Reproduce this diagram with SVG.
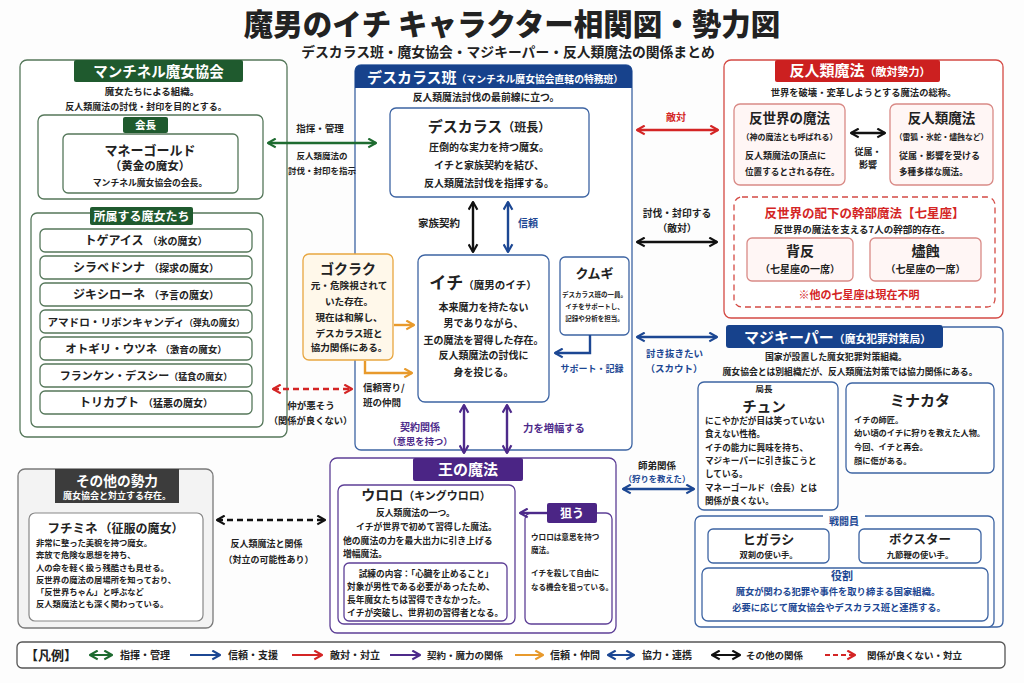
<svg xmlns="http://www.w3.org/2000/svg" width="1024" height="683" viewBox="0 0 1024 683">
<defs>
<style>
text{font-family:"Noto Sans CJK JP","Noto Sans CJK SC",sans-serif;font-weight:700;fill:#222}
.m{text-anchor:middle}
.w{fill:#fff}
.bl{fill:#1c4793}
.rd{fill:#d42525}
.pu{fill:#4d2a8a}
.gbox{fill:#fff;stroke:#55775a;stroke-width:1.3}
.bbox{fill:#fff;stroke:#3d64a3;stroke-width:1.3}
.rbox{fill:#fff6f5;stroke:#d98a86;stroke-width:1.3}
.pbox{fill:#fff;stroke:#5d3f96;stroke-width:1.3}
.ln{fill:none;stroke-width:2.4}
.lg{fill:none;stroke-width:2}
</style>
<marker id="ag" viewBox="0 0 10 10" refX="9" refY="5" markerWidth="11" markerHeight="11" markerUnits="userSpaceOnUse" orient="auto-start-reverse"><path d="M2,1 L9,5 L2,9" fill="none" stroke="#1e6b30" stroke-width="2" stroke-linejoin="round"/></marker>
<marker id="ab" viewBox="0 0 10 10" refX="9" refY="5" markerWidth="11" markerHeight="11" markerUnits="userSpaceOnUse" orient="auto-start-reverse"><path d="M2,1 L9,5 L2,9" fill="none" stroke="#1c4793" stroke-width="2" stroke-linejoin="round"/></marker>
<marker id="ar" viewBox="0 0 10 10" refX="9" refY="5" markerWidth="11" markerHeight="11" markerUnits="userSpaceOnUse" orient="auto-start-reverse"><path d="M2,1 L9,5 L2,9" fill="none" stroke="#d42525" stroke-width="2" stroke-linejoin="round"/></marker>
<marker id="ak" viewBox="0 0 10 10" refX="9" refY="5" markerWidth="11" markerHeight="11" markerUnits="userSpaceOnUse" orient="auto-start-reverse"><path d="M2,1 L9,5 L2,9" fill="none" stroke="#111" stroke-width="2" stroke-linejoin="round"/></marker>
<marker id="ap" viewBox="0 0 10 10" refX="9" refY="5" markerWidth="11" markerHeight="11" markerUnits="userSpaceOnUse" orient="auto-start-reverse"><path d="M2,1 L9,5 L2,9" fill="none" stroke="#4d2a8a" stroke-width="2" stroke-linejoin="round"/></marker>
<marker id="ao" viewBox="0 0 10 10" refX="9" refY="5" markerWidth="11" markerHeight="11" markerUnits="userSpaceOnUse" orient="auto-start-reverse"><path d="M2,1 L9,5 L2,9" fill="none" stroke="#e89a2c" stroke-width="2" stroke-linejoin="round"/></marker>
</defs>
<rect x="0" y="0" width="1024" height="683" fill="#fdfdfd"/>

<g id="title">
<text x="512" y="34.5" class="m" font-size="29.5" style="font-weight:900">魔男のイチ キャラクター相関図・勢力図</text>
<text x="508" y="56.5" class="m" font-size="13.8">デスカラス班・魔女協会・マジキーパー・反人類魔法の関係まとめ</text>
</g>

<g id="manchinel">
<rect x="20" y="60" width="267" height="377" rx="7" class="gbox"/>
<rect x="74" y="60" width="169" height="22" rx="2" fill="#1f5a2e"/>
<text x="158.5" y="76.5" class="m w" font-size="14.5">マンチネル魔女協会</text>
<text x="152" y="95" class="m" font-size="9.5">魔女たちによる組織。</text>
<text x="146" y="110" class="m" font-size="9">反人類魔法の討伐・封印を目的とする。</text>
</g>

<g id="president">
<rect x="38" y="115" width="225" height="84" rx="6" class="gbox"/>
<rect x="123" y="117" width="45" height="16" rx="2" fill="#1f5a2e"/>
<text x="145.5" y="129" class="m w" font-size="10.5">会長</text>
<rect x="63" y="134" width="175" height="59" rx="5" class="gbox"/>
<text x="150" y="155" class="m" font-size="13">マネーゴールド</text>
<text x="150" y="170" class="m" font-size="11.5">（黄金の魔女）</text>
<text x="150" y="186" class="m" font-size="8.8">マンチネル魔女協会の会長。</text>
</g>

<g id="members">
<rect x="31" y="213" width="232" height="214" rx="6" class="gbox"/>
<rect x="90" y="207" width="103" height="18" rx="2" fill="#1f5a2e"/>
<text x="141.5" y="220.5" class="m w" font-size="12">所属する魔女たち</text>
<g id="togeais"><rect x="40" y="229" width="212" height="23" rx="5" class="gbox"/><text x="146" y="245" class="m" font-size="12">トゲアイス<tspan font-size="10" dx="4">（氷の魔女）</tspan></text></g>
<g id="shirabedonna"><rect x="40" y="256" width="212" height="23" rx="5" class="gbox"/><text x="146" y="272" class="m" font-size="12">シラベドンナ<tspan font-size="10" dx="4">（探求の魔女）</tspan></text></g>
<g id="jikishirone"><rect x="40" y="283" width="212" height="23" rx="5" class="gbox"/><text x="146" y="299" class="m" font-size="12">ジキシローネ<tspan font-size="10" dx="4">（予言の魔女）</tspan></text></g>
<g id="amadoro"><rect x="40" y="310" width="212" height="23" rx="5" class="gbox"/><text x="146" y="326" class="m" font-size="10.6">アマドロ・リボンキャンディ<tspan font-size="8.6">（弾丸の魔女）</tspan></text></g>
<g id="otogiri"><rect x="40" y="337" width="212" height="23" rx="5" class="gbox"/><text x="146" y="353" class="m" font-size="11.5">オトギリ・ウツネ<tspan font-size="9.5" dx="3">（激音の魔女）</tspan></text></g>
<g id="frankendessy"><rect x="40" y="364" width="212" height="23" rx="5" class="gbox"/><text x="146" y="380" class="m" font-size="11">フランケン・デスシー<tspan font-size="9">（猛食の魔女）</tspan></text></g>
<g id="torikabuto"><rect x="40" y="391" width="212" height="23" rx="5" class="gbox"/><text x="146" y="407" class="m" font-size="12">トリカプト<tspan font-size="10" dx="4">（猛悪の魔女）</tspan></text></g>
</g>

<g id="deathcalass">
<rect x="355" y="65" width="277" height="385" rx="6" class="bbox"/>
<path d="M355,88 V71 Q355,65 361,65 H626 Q632,65 632,71 V88 Z" fill="#17428c"/>
<text x="495" y="82.5" class="m w" font-size="15">デスカラス班<tspan font-size="9.8">（マンチネル魔女協会直轄の特務班）</tspan></text>
<text x="486" y="100.7" class="m" font-size="9.8">反人類魔法討伐の最前線に立つ。</text>
</g>

<g id="deathcalass-leader">
<rect x="390" y="108" width="199" height="89" rx="6" class="bbox"/>
<text x="489" y="131.7" class="m" font-size="15">デスカラス<tspan font-size="12">（班長）</tspan></text>
<text x="489" y="150.8" class="m" font-size="10">圧倒的な実力を持つ魔女。</text>
<text x="489" y="168.8" class="m" font-size="10">イチと家族契約を結び、</text>
<text x="489" y="186.8" class="m" font-size="10">反人類魔法討伐を指揮する。</text>
</g>

<g id="ichi">
<rect x="418" y="255" width="131" height="147" rx="7" class="bbox"/>
<text x="483" y="288.5" class="m" font-size="17">イチ<tspan font-size="10.5">（魔男のイチ）</tspan></text>
<text x="483.5" y="310.8" class="m" font-size="10">本来魔力を持たない</text>
<text x="483.5" y="326.8" class="m" font-size="10">男でありながら、</text>
<text x="483.5" y="343.8" class="m" font-size="10">王の魔法を習得した存在。</text>
<text x="483.5" y="358.8" class="m" font-size="10">反人類魔法の討伐に</text>
<text x="483.5" y="375.8" class="m" font-size="10">身を投じる。</text>
</g>

<g id="kumugi">
<rect x="560" y="257" width="69" height="78" rx="5" class="bbox"/>
<text x="594.5" y="278" class="m" font-size="13">クムギ</text>
<text x="594.5" y="296.6" class="m" font-size="6.5">デスカラス班の一員。</text>
<text x="594.5" y="308.6" class="m" font-size="6.5">イチをサポートし、</text>
<text x="594.5" y="320.6" class="m" font-size="6.5">記録や分析を担当。</text>
</g>

<g id="gokuraku">
<rect x="303" y="254" width="90" height="106" rx="6" fill="#fff8ea" stroke="#e8a640" stroke-width="1.3"/>
<text x="348" y="274.3" class="m" font-size="14">ゴクラク</text>
<text x="349" y="288.7" class="m" font-size="9.6">元・危険視されて</text>
<text x="349" y="304.7" class="m" font-size="9.6">いた存在。</text>
<text x="349" y="320.7" class="m" font-size="9.6">現在は和解し、</text>
<text x="349" y="336.7" class="m" font-size="9.6">デスカラス班と</text>
<text x="349" y="350.7" class="m" font-size="9.6">協力関係にある。</text>
</g>

<g id="king-magic">
<rect x="330" y="458" width="286" height="175" rx="7" class="pbox"/>
<rect x="413" y="458" width="110" height="23" rx="2" fill="#4b2585"/>
<text x="468" y="475" class="m w" font-size="15">王の魔法</text>
</g>

<g id="uroro">
<rect x="338" y="485" width="177" height="139" rx="6" class="pbox"/>
<text x="426" y="500.3" class="m" font-size="14">ウロロ<tspan font-size="11">（キングウロロ）</tspan></text>
<text x="376" y="516.4" font-size="8.8">反人類魔法の一つ。</text>
<text x="356" y="530" font-size="8.8">イチが世界で初めて習得した魔法。</text>
<text x="343" y="543.5" font-size="8.8">他の魔法の力を最大出力に引き上げる</text>
<text x="343" y="556.5" font-size="8.8">増幅魔法。</text>
<rect x="344" y="563" width="163" height="58" rx="5" class="pbox"/>
<text x="426" y="576.5" class="m" font-size="8.7">試練の内容：「心臓を止めること」</text>
<text x="347" y="590" font-size="8.7">対象が男性である必要があったため、</text>
<text x="347" y="603" font-size="8.7">長年魔女たちは習得できなかった。</text>
<text x="347" y="616" font-size="8.7">イチが突破し、世界初の習得者となる。</text>
</g>

<g id="nerau">
<rect x="525" y="513" width="87" height="111" rx="6" class="pbox"/>
<rect x="547" y="503" width="50" height="20" rx="2" fill="#4b2585"/>
<text x="572" y="517.5" class="m w" font-size="12">狙う</text>
<text x="531" y="540" font-size="7.6">ウロロは意思を持つ</text>
<text x="531" y="553" font-size="7.6">魔法。</text>
<text x="531" y="576" font-size="7.6">イチを殺して自由に</text>
<text x="531" y="590" font-size="7.5">なる機会を狙っている。</text>
</g>

<g id="anti-human">
<rect x="724" y="60" width="279" height="258" rx="7" fill="#fff" stroke="#d44a44" stroke-width="1.3"/>
<rect x="775" y="60" width="165" height="22" rx="2" fill="#cc2020"/>
<text x="860" y="76" class="m w" font-size="15">反人類魔法<tspan font-size="11">（敵対勢力）</tspan></text>
<text x="863.5" y="95.5" class="m" font-size="9.3">世界を破壊・変革しようとする魔法の総称。</text>
</g>

<g id="anti-world">
<rect x="734" y="104" width="111" height="81" rx="6" class="rbox"/>
<text x="789.5" y="123" class="m" font-size="13.5">反世界の魔法</text>
<text x="789.5" y="140" class="m" font-size="8">（神の魔法とも呼ばれる）</text>
<text x="745" y="159.4" font-size="9">反人類魔法の頂点に</text>
<text x="745" y="175.3" font-size="8.6">位置するとされる存在。</text>
</g>

<g id="anti-human-magics">
<rect x="890" y="104" width="103" height="81" rx="6" class="rbox"/>
<text x="941.5" y="123" class="m" font-size="13.5">反人類魔法</text>
<text x="941.5" y="140" class="m" font-size="7.8">（雷狐・氷蛇・燼蝕など）</text>
<text x="899" y="159.4" font-size="9">従属・影響を受ける</text>
<text x="899" y="175.3" font-size="8.6">多種多様な魔法。</text>
</g>

<g id="seven-stars">
<rect x="734" y="197" width="261" height="110" rx="8" fill="none" stroke="#d44a44" stroke-width="1.3" stroke-dasharray="6 4"/>
<text x="864.5" y="217.8" class="m rd" font-size="12.5">反世界の配下の幹部魔法【七星座】</text>
<text x="862" y="232.6" class="m" font-size="9.5">反世界の魔法を支える7人の幹部的存在。</text>
<g id="haihan"><rect x="747" y="238" width="106" height="43" rx="5" class="rbox"/>
<text x="800" y="256.3" class="m" font-size="14">背反</text>
<text x="800" y="272.8" class="m" font-size="10">（七星座の一席）</text></g>
<g id="jinshoku"><rect x="870" y="238" width="111" height="43" rx="5" class="rbox"/>
<text x="925.5" y="256.3" class="m" font-size="14">燼蝕</text>
<text x="925.5" y="272.8" class="m" font-size="10">（七星座の一席）</text></g>
<text x="859" y="299.2" class="m rd" font-size="11">※他の七星座は現在不明</text>
</g>

<g id="magikeeper">
<path d="M943,327 H997 Q1003,327 1003,333 V621 Q1003,627 997,627 H900" fill="none" stroke="#3d64a3" stroke-width="1.3"/>
<rect x="726" y="325" width="217" height="23" rx="3" fill="#17428c"/>
<text x="837.5" y="342.7" class="m w" font-size="15">マジキーパー<tspan font-size="10.8">（魔女犯罪対策局）</tspan></text>
<text x="836" y="360.4" class="m" font-size="8.9">国家が設置した魔女犯罪対策組織。</text>
<text x="850" y="375.3" class="m" font-size="8.8">魔女協会とは別組織だが、反人類魔法対策では協力関係にある。</text>
</g>

<g id="chun">
<rect x="698" y="382" width="140" height="128" rx="6" class="bbox"/>
<text x="764" y="392" class="m" font-size="8.5">局長</text>
<text x="764" y="411.5" class="m" font-size="14.5">チュン</text>
<text x="705" y="424" font-size="8.6">にこやかだが目は笑っていない</text>
<text x="705" y="437" font-size="8.6">食えない性格。</text>
<text x="705" y="450.5" font-size="8.6">イチの能力に興味を持ち、</text>
<text x="705" y="464" font-size="8.6">マジキーパーに引き抜こうと</text>
<text x="705" y="477" font-size="8.6">している。</text>
<text x="705" y="490.5" font-size="8.6">マネーゴールド（会長）とは</text>
<text x="705" y="503.5" font-size="8.6">関係が良くない。</text>
</g>

<g id="minakata">
<rect x="846" y="383" width="148" height="90" rx="6" class="bbox"/>
<text x="920" y="405.7" class="m" font-size="15">ミナカタ</text>
<text x="854" y="423" font-size="8.2">イチの師匠。</text>
<text x="854" y="436" font-size="8.2">幼い頃のイチに狩りを教えた人物。</text>
<text x="854" y="450" font-size="8.2">今回、イチと再会。</text>
<text x="854" y="464" font-size="8.2">顔に傷がある。</text>
</g>

<g id="fighters">
<rect x="695" y="516" width="299" height="111" rx="6" class="bbox"/>
<rect x="823" y="512" width="42" height="14" fill="#fff"/>
<text x="844" y="524.8" class="m bl" font-size="10">戦闘員</text>
<g id="higarashi"><rect x="708" y="529" width="121" height="34" rx="5" class="bbox"/>
<text x="768.5" y="544" class="m" font-size="13">ヒガラシ</text>
<text x="768.5" y="557.5" class="m" font-size="8.3">双剣の使い手。</text></g>
<g id="boxter"><rect x="859" y="529" width="122" height="34" rx="5" class="bbox"/>
<text x="920" y="544" class="m" font-size="12.5">ボクスター</text>
<text x="920" y="557.5" class="m" font-size="8.3">九節鞭の使い手。</text></g>
<g id="role"><rect x="702" y="568" width="286" height="53" rx="6" class="bbox"/>
<text x="842" y="580" class="m bl" font-size="11">役割</text>
<text x="838" y="594.5" class="m bl" font-size="9.3">魔女が関わる犯罪や事件を取り締まる国家組織。</text>
<text x="839" y="610.5" class="m bl" font-size="9.3">必要に応じて魔女協会やデスカラス班と連携する。</text></g>
</g>

<g id="others">
<rect x="18" y="469" width="195" height="159" rx="7" fill="#f3f3f3" stroke="#7a7a7a" stroke-width="1.3"/>
<rect x="55" y="469" width="124" height="34" fill="#3c3c3c"/>
<text x="117" y="486.2" class="m w" font-size="13.7">その他の勢力</text>
<text x="117" y="499.4" class="m w" font-size="9">魔女協会と対立する存在。</text>
</g>

<g id="fuchimine">
<rect x="29" y="513" width="174" height="108" rx="6" fill="#fff" stroke="#888" stroke-width="1.2"/>
<text x="115.5" y="532.5" class="m" font-size="12.5">フチミネ<tspan font-size="12" dx="2">（征服の魔女）</tspan></text>
<text x="36" y="546" font-size="8.3">非常に整った美貌を持つ魔女。</text>
<text x="36" y="558" font-size="8.3">奔放で危険な思想を持ち、</text>
<text x="36" y="570.5" font-size="8.3">人の命を軽く扱う残酷さも見せる。</text>
<text x="36" y="582.5" font-size="8.3">反世界の魔法の居場所を知っており、</text>
<text x="36" y="594.5" font-size="8.3">「反世界ちゃん」と呼ぶなど</text>
<text x="36" y="607" font-size="8.3">反人類魔法とも深く関わっている。</text>
</g>

<g id="connectors">
<path d="M268,143 H376" class="ln" stroke="#1e6b30" marker-start="url(#ag)" marker-end="url(#ag)"/>
<text x="320" y="131.5" class="m" font-size="9.5">指揮・管理</text>
<text x="322" y="159" class="m" font-size="8.5">反人類魔法の</text>
<text x="322" y="174" class="m" font-size="8.5">討伐・封印を指示</text>

<path d="M637,130 H718" class="ln" stroke="#d42525" marker-start="url(#ar)" marker-end="url(#ar)"/>
<text x="676" y="120.8" class="m rd" font-size="10">敵対</text>

<path d="M637,242 H717" class="ln" stroke="#111" marker-start="url(#ak)" marker-end="url(#ak)"/>
<text x="677" y="216.7" class="m" font-size="9.8">討伐・封印する</text>
<text x="677" y="231.7" class="m" font-size="9.8">（敵対）</text>

<path d="M637,337 H717" class="ln" stroke="#1c4793" marker-start="url(#ab)" marker-end="url(#ab)"/>
<text x="674.5" y="356.6" class="m bl" font-size="9.5">討き抜きたい</text>
<text x="674" y="371.6" class="m bl" font-size="9.5">（スカウト）</text>

<path d="M473,202 V252" class="ln" stroke="#111" marker-start="url(#ak)" marker-end="url(#ak)"/>
<text x="439" y="227" class="m" font-size="10.5">家族契約</text>
<path d="M508,202 V252" class="ln" stroke="#1c4793" marker-start="url(#ab)" marker-end="url(#ab)"/>
<text x="528" y="227" class="m bl" font-size="10">信頼</text>

<path d="M590,335 V353 H555" class="ln" stroke="#1c4793" marker-end="url(#ab)"/>
<text x="592" y="372.4" class="m bl" font-size="9">サポート・記録</text>

<path d="M394,325 H414" class="ln" stroke="#e89a2c" marker-end="url(#ao)"/>
<path d="M365,361 V373 H412" class="ln" stroke="#e89a2c" marker-end="url(#ao)"/>
<text x="363" y="390.6" font-size="9.5">信頼寄り/</text>
<text x="363" y="405.6" font-size="9.5">班の仲間</text>

<path d="M273,389 H352" class="ln" stroke="#d42525" stroke-dasharray="6 4" marker-start="url(#ar)" marker-end="url(#ar)"/>
<text x="311" y="408.6" class="m" font-size="9.5">仲が悪そう</text>
<text x="310.5" y="423.5" class="m" font-size="9.3">（関係が良くない）</text>

<path d="M464,405 V453" class="ln" stroke="#4d2a8a" marker-start="url(#ap)" marker-end="url(#ap)"/>
<path d="M507,405 V453" class="ln" stroke="#4d2a8a" marker-start="url(#ap)" marker-end="url(#ap)"/>
<text x="420" y="430.8" class="m pu" font-size="10">契約関係</text>
<text x="420" y="444.5" class="m pu" font-size="9.3">（意思を持つ）</text>
<text x="554" y="431.9" class="m pu" font-size="10.3">力を増幅する</text>

<path d="M547,513 H520" class="ln" stroke="#4d2a8a" marker-end="url(#ap)"/>

<path d="M623,489 H694" class="ln" stroke="#1c4793" marker-start="url(#ab)" marker-end="url(#ab)"/>
<text x="657" y="468.6" class="m" font-size="9.5">師弟関係</text>
<text x="657" y="481.5" class="m bl" font-size="8.3">（狩りを教えた）</text>

<path d="M217,520 H325" class="ln" stroke="#111" stroke-dasharray="6 4" marker-start="url(#ak)" marker-end="url(#ak)"/>
<text x="266.5" y="547.4" class="m" font-size="9">反人類魔法と関係</text>
<text x="268.5" y="563.4" class="m" font-size="9">（対立の可能性あり）</text>

<path d="M851,133 H885" class="ln" stroke="#111" marker-start="url(#ak)" marker-end="url(#ak)"/>
<text x="868" y="155.4" class="m" font-size="9">従属・</text>
<text x="868" y="168.4" class="m" font-size="9">影響</text>
</g>

<g id="legend">
<rect x="17" y="642" width="988" height="26" rx="5" fill="#fff" stroke="#555" stroke-width="1.3"/>
<text x="25" y="660" font-size="13">【凡例】</text>
<path d="M90,655 H112" class="lg" stroke="#1e6b30" marker-start="url(#ag)" marker-end="url(#ag)"/>
<text x="120" y="658.8" font-size="10">指揮・管理</text>
<path d="M190,655 H220" class="lg" stroke="#1c4793" marker-end="url(#ab)"/>
<text x="228" y="658.8" font-size="10">信頼・支援</text>
<path d="M292,655 H322" class="lg" stroke="#d42525" marker-end="url(#ar)"/>
<text x="330" y="658.8" font-size="10">敵対・対立</text>
<path d="M390,655 H420" class="lg" stroke="#4d2a8a" marker-end="url(#ap)"/>
<text x="427" y="658.8" font-size="9.5">契約・魔力の関係</text>
<path d="M515,655 H543" class="lg" stroke="#e89a2c" marker-end="url(#ao)"/>
<text x="550" y="658.8" font-size="10">信頼・仲間</text>
<path d="M608,655 H634" class="lg" stroke="#1c4793" marker-start="url(#ab)" marker-end="url(#ab)"/>
<text x="642" y="658.8" font-size="10">協力・連携</text>
<path d="M712,655 H740" class="lg" stroke="#111" marker-start="url(#ak)" marker-end="url(#ak)"/>
<text x="746" y="658.8" font-size="9.5">その他の関係</text>
<path d="M825,655 H855" class="lg" stroke="#d42525" stroke-dasharray="5 3" marker-end="url(#ar)"/>
<text x="867" y="658.8" font-size="9.5">関係が良くない・対立</text>
</g>
</svg>
